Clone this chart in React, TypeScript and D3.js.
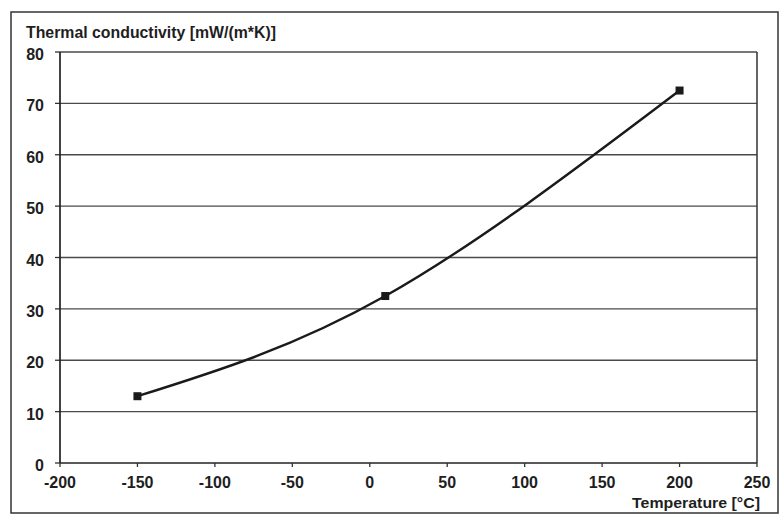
import React from 'react';
import * as d3 from 'd3';

const temps = [-150, 10, 200];
const conductivity = [13, 32.5, 72.5];
const xTicks = [-200, -150, -100, -50, 0, 50, 100, 150, 200, 250];
const yTicks = [0, 10, 20, 30, 40, 50, 60, 70, 80];

const W = 780;
const H = 517;
const FONT = '"Liberation Sans", Arial, sans-serif';

const left = 60;
const right = 757;
const top = 52;
const bottom = 463;

export default function App() {
  const x = d3.scaleLinear().domain([-200, 250]).range([left, right]);
  const y = d3.scaleLinear().domain([0, 80]).range([bottom, top]);

  const points = temps.map((t, i) => [t, conductivity[i]] as [number, number]);
  const line = d3
    .line<[number, number]>()
    .x((d) => x(d[0]))
    .y((d) => y(d[1]))
    .curve(d3.curveNatural);

  return (
    <svg
      width={W}
      height={H}
      style={{ position: 'absolute', left: 0, top: 0, background: '#fff' }}
      fontFamily={FONT}
      fontWeight="bold"
    >
      <rect x={11} y={12} width={767} height={501} fill="none" stroke="#333" strokeWidth={1.5} />

      <text x={26} y={38} fontSize={17} fill="#1e1e1e" textLength={250} lengthAdjust="spacingAndGlyphs">
        Thermal conductivity [mW/(m*K)]
      </text>

      {/* gridlines */}
      {yTicks.map((t) => (
        <g key={t}>
          {t > 0 && (
            <line x1={left} x2={right} y1={y(t)} y2={y(t)} stroke="#4a4a4a" strokeWidth={1.4} />
          )}
          <line x1={left - 5} x2={left} y1={y(t)} y2={y(t)} stroke="#333" strokeWidth={1.3} />
          <text x={44} y={y(t) + 8} fontSize={16} textAnchor="end" fill="#1e1e1e">
            {t}
          </text>
        </g>
      ))}

      {/* axes */}
      <line x1={left} x2={left} y1={top} y2={bottom} stroke="#222" strokeWidth={1.7} />
      <line x1={right} x2={right} y1={top} y2={bottom} stroke="#333" strokeWidth={1.5} />
      <line x1={left} x2={right} y1={bottom} y2={bottom} stroke="#222" strokeWidth={1.7} />

      {xTicks.map((t) => (
        <g key={t}>
          <line x1={x(t)} x2={x(t)} y1={bottom} y2={bottom + 4} stroke="#333" strokeWidth={1.3} />
          <text x={x(t)} y={488} fontSize={16} textAnchor="middle" fill="#1e1e1e">
            {t}
          </text>
        </g>
      ))}

      <text x={632} y={508} fontSize={15} fill="#1e1e1e" textLength={128} lengthAdjust="spacingAndGlyphs">
        Temperature [°C]
      </text>

      <path d={line(points) ?? ''} fill="none" stroke="#1a1a1a" strokeWidth={2.4} />
      {points.map((d, i) => (
        <rect key={i} x={x(d[0]) - 4} y={y(d[1]) - 4} width={8} height={8} fill="#1a1a1a" />
      ))}
    </svg>
  );
}
